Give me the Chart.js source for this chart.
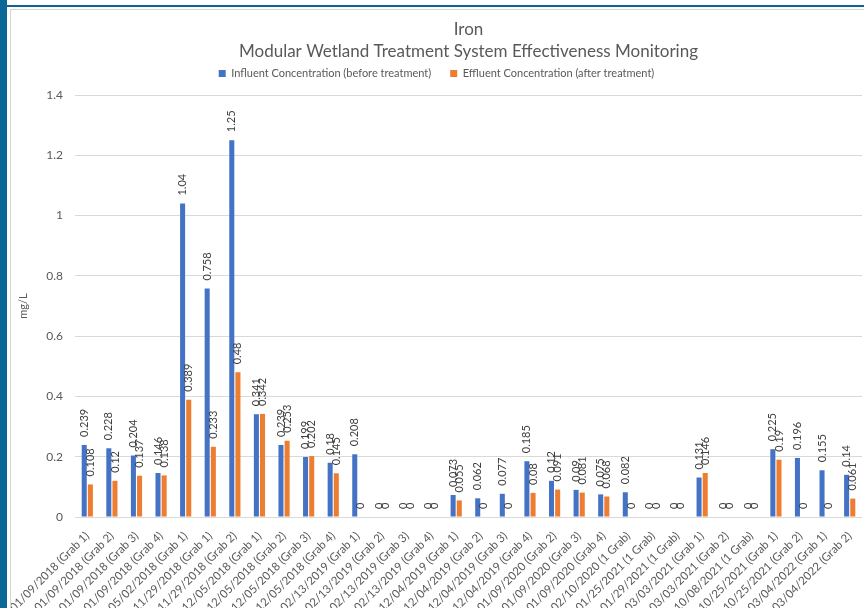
<!DOCTYPE html>
<html>
<head>
<meta charset="utf-8">
<script src="https://cdn.jsdelivr.net/npm/chart.js@4.4.1/dist/chart.umd.min.js"></script>
<style>
  html, body { margin: 0; padding: 0; background: #fff; }
  body { width: 864px; height: 608px; position: relative; overflow: hidden; }
  #strip { position: absolute; left: 0; top: 0; width: 7px; height: 608px; background: #0a6796; }
  #topline { position: absolute; left: 7px; top: 5px; width: 857px; height: 2px; background: #0a6796; }
  #frame { position: absolute; left: 10px; top: 9px; width: 854px; height: 599px; border-left: 1px solid #d4d4d4; border-top: 1px solid #d4d4d4; box-sizing: border-box; }
  #wrap { position: absolute; left: 11px; top: 10px; width: 853px; height: 598px; }
</style>
</head>
<body>
<div id="strip"></div>
<div id="topline"></div>
<div id="frame"></div>
<div id="wrap"><canvas id="chart"></canvas></div>
<script>
// ---------------------------------------
// DATA
// ---------------------------------------
const categories = [
  "01/09/2018 (Grab 1)", "01/09/2018 (Grab 2)", "01/09/2018 (Grab 3)", "01/09/2018 (Grab 4)",
  "05/02/2018 (Grab 1)", "11/29/2018 (Grab 1)", "11/29/2018 (Grab 2)", "12/05/2018 (Grab 1)",
  "12/05/2018 (Grab 2)", "12/05/2018 (Grab 3)", "12/05/2018 (Grab 4)", "02/13/2019 (Grab 1)",
  "02/13/2019 (Grab 2)", "02/13/2019 (Grab 3)", "02/13/2019 (Grab 4)", "12/04/2019 (Grab 1)",
  "12/04/2019 (Grab 2)", "12/04/2019 (Grab 3)", "12/04/2019 (Grab 4)", "01/09/2020 (Grab 2)",
  "01/09/2020 (Grab 3)", "01/09/2020 (Grab 4)", "02/10/2020 (1 Grab)", "01/25/2021 (1 Grab)",
  "01/29/2021 (1 Grab)", "03/03/2021 (Grab 1)", "03/03/2021 (Grab 2)", "10/08/2021 (1 Grab)",
  "10/25/2021 (Grab 1)", "10/25/2021 (Grab 2)", "03/04/2022 (Grab 1)", "03/04/2022 (Grab 2)"
];

const influent = [
  0.239, 0.228, 0.204, 0.146,
  1.04, 0.758, 1.25, 0.341,
  0.239, 0.199, 0.18, 0.208,
  0, 0, 0, 0.073,
  0.062, 0.077, 0.185, 0.12,
  0.09, 0.075, 0.082, 0,
  0, 0.131, 0, 0,
  0.225, 0.196, 0.155, 0.14
];

const effluent = [
  0.108, 0.12, 0.137, 0.138,
  0.389, 0.233, 0.48, 0.342,
  0.253, 0.202, 0.145, 0,
  0, 0, 0, 0.055,
  0, 0, 0.08, 0.091,
  0.081, 0.068, 0, 0,
  0, 0.146, 0, 0,
  0.19, 0, 0, 0.061
];

const seriesNames = ["Influent Concentration (before treatment)", "Effluent Concentration (after treatment)"];
const titleLines = ["Iron", "Modular Wetland Treatment System Effectiveness Monitoring"];
const yAxisTitle = "mg/L";
const yMin = 0, yMax = 1.4, yStep = 0.2;

// -------------------------------
// PLUGINS
// -------------------------------
const FONT = "Lato, 'Open Sans', sans-serif";

// vertical value labels above each bar (like Excel data labels)
const barLabels = {
  id: "barLabels",
  afterDatasetsDraw(chart) {
    const ctx = chart.ctx;
    ctx.save();
    ctx.font = "11px " + FONT;
    ctx.fillStyle = "#404040";
    ctx.textAlign = "left";
    ctx.textBaseline = "middle";
    chart.data.datasets.forEach((ds, i) => {
      chart.getDatasetMeta(i).data.forEach((bar, j) => {
        ctx.save();
        ctx.translate(bar.x, bar.y - 8);
        ctx.rotate(-Math.PI / 2);
        ctx.fillText(String(ds.data[j]), 0, 0);
        ctx.restore();
      });
    });
    ctx.restore();
  }
};

// fixed legend height so the plot starts where the reference does
const legendHeight = {
  id: "legendHeight",
  beforeInit(chart) {
    const fit = chart.legend.fit;
    chart.legend.fit = function () {
      fit.call(this);
      this.height = 46;
    };
  }
};

// -------------------------------
// CHART
// -------------------------------
new Chart(document.getElementById("chart").getContext("2d"), {
  type: "bar",
  data: {
    labels: categories,
    datasets: [
      { label: seriesNames[0], data: influent, backgroundColor: "#4472C4" },
      { label: seriesNames[1], data: effluent, backgroundColor: "#ED7D31" }
    ]
  },
  options: {
    responsive: true,
    maintainAspectRatio: false,
    animation: false,
    devicePixelRatio: 1,
    categoryPercentage: 0.5,
    barPercentage: 0.82,
    layout: { padding: { left: 0, right: 2, top: 0, bottom: 0 } },
    plugins: {
      title: {
        display: true,
        text: titleLines,
        color: "#595959",
        fullSize: false,
        font: { family: FONT, size: 17, weight: "normal", lineHeight: "22px" },
        padding: { top: 9, bottom: -14 }
      },
      legend: {
        position: "top",
        labels: {
          boxWidth: 7,
          boxHeight: 7,
          padding: 19,
          color: "#595959",
          font: { family: FONT, size: 11 }
        }
      },
      tooltip: { enabled: false }
    },
    scales: {
      x: {
        grid: { display: false },
        border: { display: false },
        ticks: {
          autoSkip: false,
          minRotation: 45,
          maxRotation: 45,
          padding: 4,
          color: "#595959",
          font: { family: FONT, size: 11.5 }
        },
        afterFit: scale => {
          scale.height = 91;
          scale.paddingLeft = 0;
          scale.paddingRight = 0;
        }
      },
      y: {
        min: yMin,
        max: yMax,
        ticks: {
          stepSize: yStep,
          padding: 12,
          color: "#595959",
          font: { family: FONT, size: 12 },
          callback: v => String(Math.round(v * 10) / 10)
        },
        grid: { color: "#d9d9d9", drawTicks: false },
        border: { display: false },
        title: {
          display: true,
          text: yAxisTitle,
          color: "#595959",
          font: { family: FONT, size: 11 },
          padding: { top: 6, bottom: 0 }
        },
        afterFit: scale => { scale.width = 64; }
      }
    }
  },
  plugins: [barLabels, legendHeight]
});
</script>
</body>
</html>
